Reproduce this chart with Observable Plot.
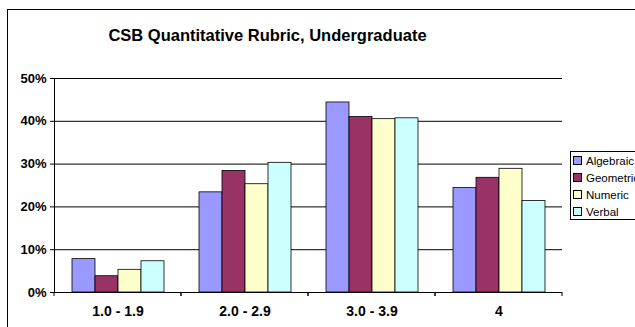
<!DOCTYPE html>
<html>
<head>
<meta charset="utf-8">
<script src="https://cdn.jsdelivr.net/npm/d3@7"></script>
<script src="https://cdn.jsdelivr.net/npm/@observablehq/plot@0.6"></script>
<style>
  html, body { margin: 0; padding: 0; background: #fff; }
  #wrap { position: relative; width: 635px; height: 327px; overflow: hidden; font-family: "Liberation Sans", Arial, sans-serif; }
  #frame { position: absolute; left: 7px; top: 9px; width: 660px; height: 340px; border: 1px solid #000; box-sizing: border-box; }
  #title { position: absolute; left: 0; width: 535px; top: 26px; text-align: center; font-weight: bold; font-size: 16.5px; color: #000; }
  #chart { position: absolute; left: 0; top: 0; }
  #legend { position: absolute; left: 570px; top: 151px; width: 80px; height: 69px; border: 1px solid #000; box-sizing: border-box; background: #fff; font-size: 11.5px; }
  .item { position: absolute; left: 2px; white-space: nowrap; line-height: 12px; }
  .sw { display: inline-block; width: 7px; height: 7px; border: 1px solid #000; margin-right: 4px; vertical-align: 0px; }
  #chart svg g[aria-label="y-axis tick label"] text, #chart svg g[aria-label="y-axis"] text { font-size: 13px; }
  #chart svg g[aria-label="fx-axis tick label"] text, #chart svg g[aria-label="fx-axis"] text { font-size: 14px; }
</style>
</head>
<body>
<div id="wrap">
  <div id="frame"></div>
  <div id="chart"></div>
  <div id="title">CSB Quantitative Rubric, Undergraduate</div>
  <div id="legend"></div>
</div>
<script>
const categories = ["1.0 - 1.9", "2.0 - 2.9", "3.0 - 3.9", "4"];
const series = ["Algebraic", "Geometric", "Numeric", "Verbal"];
const colors = ["#9999FF", "#993366", "#FFFFCC", "#CCFFFF"];
const algebraic = [7.8, 23.4, 44.4, 24.4];
const geometric = [3.8, 28.4, 41.0, 26.8];
const numeric  = [5.3, 25.3, 40.5, 28.9];
const verbal   = [7.3, 30.3, 40.7, 21.4];
const yTicks = [0, 10, 20, 30, 40, 50];

const valuesBySeries = [algebraic, geometric, numeric, verbal];
const data = [];
categories.forEach((c, i) => series.forEach((s, j) => data.push({cat: c, series: s, value: valuesBySeries[j][i]})));

function boundaryTicks(index, scales, values, dimensions) {
  const g = d3.create("svg:g");
  const y0 = scales.y(0);
  const xs = [dimensions.marginLeft, dimensions.width - dimensions.marginRight];
  for (const x of xs) {
    g.append("line").attr("x1", x).attr("x2", x).attr("y1", y0).attr("y2", y0 + 4)
      .attr("stroke", "#000").attr("stroke-width", 1);
  }
  return g.node();
}

const chart = Plot.plot({
  width: 635,
  height: 327,
  marginLeft: 54,
  marginRight: 73,
  marginTop: 78,
  marginBottom: 35,
  style: {fontFamily: "'Liberation Sans', Arial, sans-serif", fontSize: "13px", fontWeight: "bold", color: "#000", background: "transparent", overflow: "visible"},
  fx: {domain: categories, padding: 0, label: null, tickSize: 0, tickPadding: 14, axis: "bottom"},
  x: {domain: series, paddingInner: 0, paddingOuter: 0.76, axis: null},
  y: {domain: [0, 50], ticks: yTicks, tickFormat: d => d + "%", tickSize: 4, tickPadding: 4, label: null, line: true},
  color: {domain: series, range: colors},
  marks: [
    Plot.ruleY(yTicks.filter(d => d > 0), {stroke: "#000", strokeWidth: 1}),
    Plot.barY(data, {fx: "cat", x: "series", y: "value", fill: "series", stroke: "#000", strokeWidth: 0.8, inset: 0}),
    Plot.ruleY([0], {stroke: "#000", strokeWidth: 1}),
    Plot.ruleY([0], {stroke: "none", render: boundaryTicks})
  ]
});
document.getElementById("chart").appendChild(chart);

const legend = document.getElementById("legend");
series.forEach((s, i) => {
  const it = document.createElement("div");
  it.className = "item";
  it.style.top = (3 + i * 17) + "px";
  const sw = document.createElement("span");
  sw.className = "sw";
  sw.style.background = colors[i];
  it.appendChild(sw);
  it.appendChild(document.createTextNode(s));
  legend.appendChild(it);
});
</script>
</body>
</html>
